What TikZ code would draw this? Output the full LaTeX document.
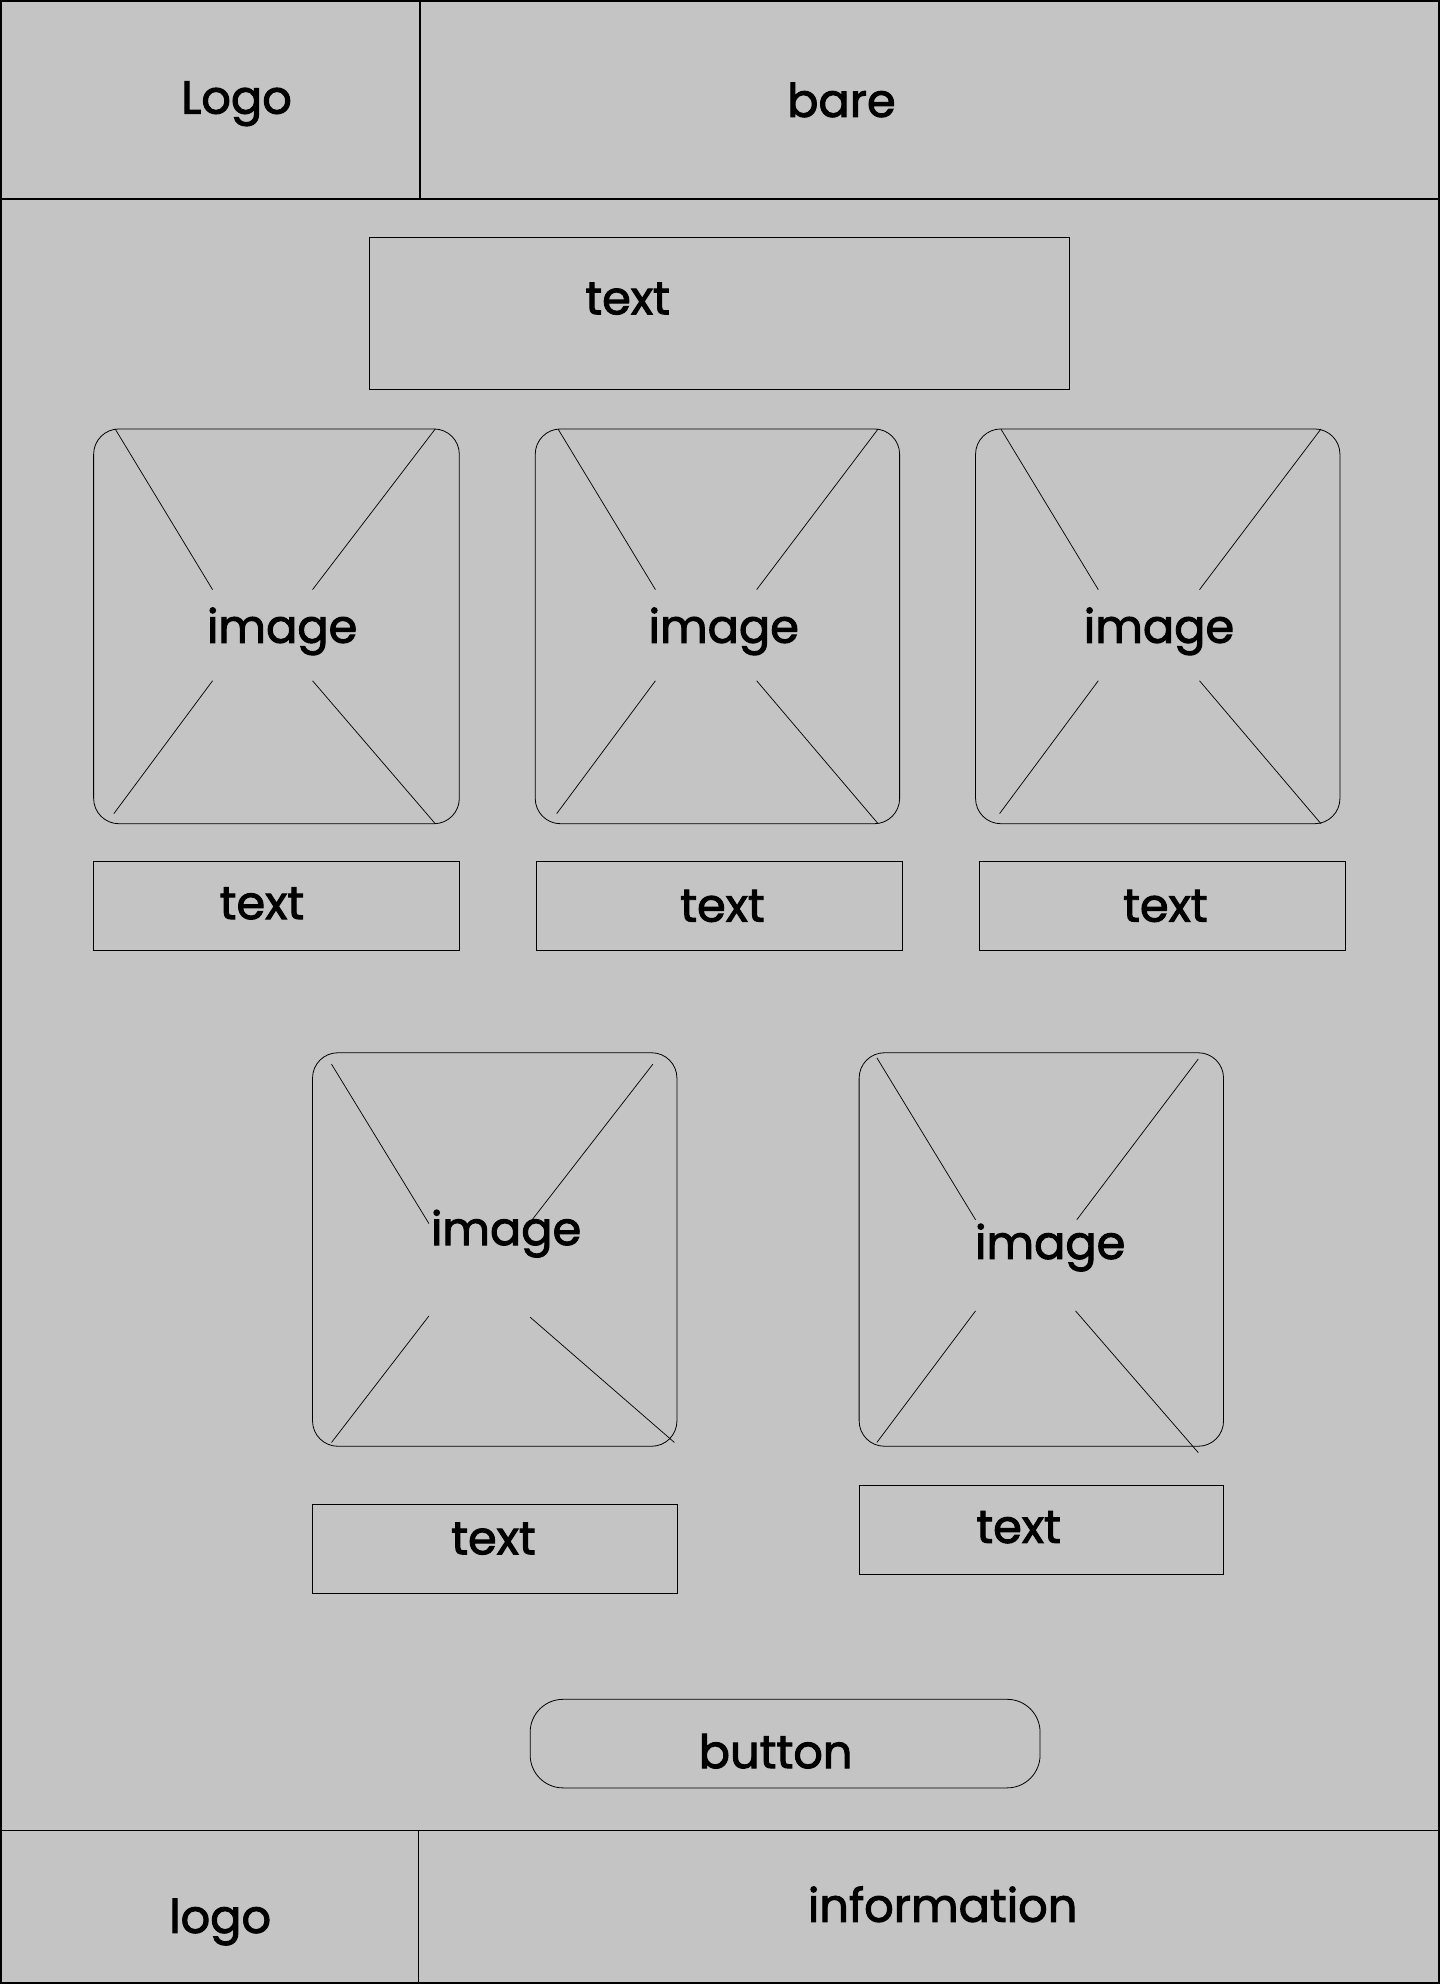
\documentclass[tikz,border=0pt]{standalone}
\usepackage{fontspec}
\setmainfont{Poppins}
\definecolor{bg}{HTML}{C4C4C4}
\newcommand\heavytxt[1]{\special{pdf:literal direct 2 Tr 0.55 w}#1\special{pdf:literal direct 0 Tr}}
\begin{document}
\begin{tikzpicture}[x=0.025cm,y=-0.025cm,
  frame/.style={draw=black,line width=1.1pt},
  thinline/.style={draw=black,line width=0.45pt},
  boxnode/.style={thinline,fill=none},
  lbl/.style={font=\fontsize{26}{32}\selectfont,inner sep=0pt,text=black},
  cross/.style={draw=black,line width=0.4pt}]
\useasboundingbox (0,0) rectangle (1138,1568);
\fill[bg] (0,0) rectangle (1138,1568);
% outer frame, header, footer
\draw[frame] (0.6,0.6) rectangle (1137.4,1567.4);
\draw[frame] (0,157) -- (1138,157);
\draw[frame] (332,0) -- (332,157);
\draw[thinline,line width=0.6pt] (0,1447) -- (1138,1447);
\draw[thinline,line width=0.6pt] (331,1447) -- (331,1568);
\node[lbl] (logoT) at (187,82) {\heavytxt{Logo}};
\node[lbl] (bare) at (665,79) {\heavytxt{bare}};
\node[lbl] (logoB) at (174,1519) {\heavytxt{logo}};
\node[lbl] (info) at (745,1505) {\heavytxt{information}};
% title text box
\draw[boxnode] (292,188) rectangle (845,308);
\node[lbl] (t0) at (496,236) {\heavytxt{text}};
% row 1 images
\draw[boxnode,rounded corners=0.5cm] (74,339) rectangle (363,651);
\draw[cross] (91,339) -- (168,466); \draw[cross] (344,339) -- (247,466);
\draw[cross] (168,538) -- (90,643); \draw[cross] (247,538) -- (344,651);
\node[lbl] (i1) at (223,499) {\heavytxt{image}};
\draw[boxnode,rounded corners=0.5cm] (423,339) rectangle (711,651);
\draw[cross] (441,339) -- (518,466); \draw[cross] (694,339) -- (598,466);
\draw[cross] (518,538) -- (440,643); \draw[cross] (598,538) -- (694,651);
\node[lbl] (i2) at (572,499) {\heavytxt{image}};
\draw[boxnode,rounded corners=0.5cm] (771,339) rectangle (1059,651);
\draw[cross] (791,339) -- (868,466); \draw[cross] (1044,339) -- (948,466);
\draw[cross] (868,538) -- (790,643); \draw[cross] (948,538) -- (1044,651);
\node[lbl] (i3) at (916,499) {\heavytxt{image}};
% row 1 texts
\draw[boxnode] (74,681) rectangle (363,751);
\node[lbl] (t1) at (207,714) {\heavytxt{text}};
\draw[boxnode] (424,681) rectangle (713,751);
\node[lbl] (t2) at (571,716) {\heavytxt{text}};
\draw[boxnode] (774,681) rectangle (1063,751);
\node[lbl] (t3) at (921,716) {\heavytxt{text}};
% row 2 images
\draw[boxnode,rounded corners=0.5cm] (247,832) rectangle (535,1143);
\draw[cross] (262,841) -- (339,967); \draw[cross] (516,841) -- (419,966);
\draw[cross] (339,1040) -- (262,1140); \draw[cross] (419,1041) -- (533,1140);
\node[lbl] (i4) at (400,975) {\heavytxt{image}};
\draw[boxnode,rounded corners=0.5cm] (679,832) rectangle (967,1143);
\draw[cross] (693,836) -- (771,964); \draw[cross] (947,837) -- (851,964);
\draw[cross] (771,1036) -- (693,1140); \draw[cross] (850,1036) -- (947,1148);
\node[lbl] (i5) at (830,986) {\heavytxt{image}};
% row 2 texts
\draw[boxnode] (247,1189) rectangle (535,1259);
\node[lbl] (t4) at (390,1216) {\heavytxt{text}};
\draw[boxnode] (679,1174) rectangle (967,1244);
\node[lbl] (t5) at (805,1207) {\heavytxt{text}};
% button
\draw[boxnode,rounded corners=0.65cm] (419,1343) rectangle (822,1413);
\node[lbl] (btn) at (613,1384) {\heavytxt{button}};
\end{tikzpicture}
\end{document}
